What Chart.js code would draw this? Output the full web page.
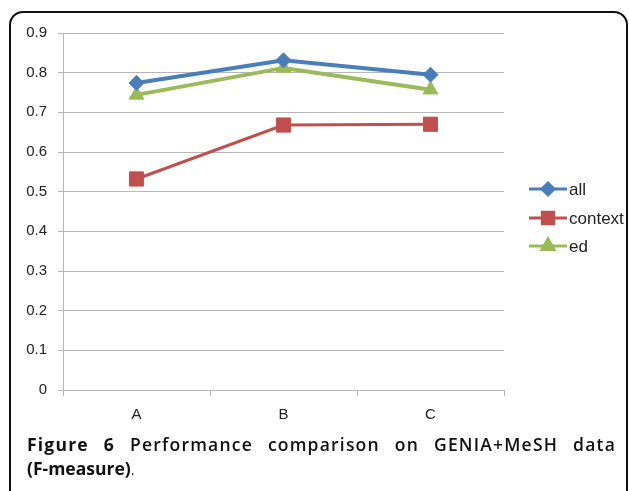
<!DOCTYPE html>
<html>
<head>
<meta charset="utf-8">
<script src="https://cdn.jsdelivr.net/npm/chart.js@4/dist/chart.umd.min.js"></script>
<style>
  html, body { margin: 0; padding: 0; background: #fff; }
  #wrap { position: relative; width: 629px; height: 491px; overflow: hidden; background: #fff; }
  #frame { position: absolute; left: 9px; top: 11px; width: 619px; height: 494px; box-sizing: border-box;
           border: 2px solid #111; border-radius: 14px; }
  #chartBox { position: absolute; left: 0; top: 0; width: 629px; height: 491px; }
  #caption { position: absolute; left: 27px; top: 432px; width: 589px; font-family: "Open Sans", sans-serif;
             font-size: 17.5px; color: #111; line-height: 24px; }
  #caption .l1 { text-align: justify; text-align-last: justify; font-weight: 600; letter-spacing: 1.2px; white-space: nowrap; }
  #caption .l2 { font-weight: 700; }
  #caption b { font-weight: 700; }
  #caption .dot { font-weight: 400; font-size: 14px; }
</style>
</head>
<body>
<div id="wrap">
  <div id="frame"></div>
  <div id="chartBox"><canvas id="c"></canvas></div>
  <div id="caption">
    <div class="l1"><b>Figure 6</b> Performance comparison on GENIA+MeSH data</div>
    <div class="l2">(F-measure)<span class="dot">.</span></div>
  </div>
</div>
<script>
const categories = ["A", "B", "C"];
const allValues = [0.774, 0.831, 0.795];
const contextValues = [0.532, 0.668, 0.670];
const edValues = [0.744, 0.812, 0.757];
const yTicks = [0, 0.1, 0.2, 0.3, 0.4, 0.5, 0.6, 0.7, 0.8, 0.9];

const seriesNames = ["all", "context", "ed"];
const gridColor = "#b8b8b8";

const legendPlugin = {
  id: "sideLegend",
  afterDraw(chart) {
    const ctx = chart.ctx;
    const x0 = 529, x1 = 567;
    const rows = [189, 218, 246];
    const legendRadius = [6, 8, 7];
    chart.data.datasets.forEach((ds, i) => {
      const y = rows[i];
      ctx.save();
      ctx.strokeStyle = ds.borderColor;
      ctx.lineWidth = 3;
      ctx.beginPath();
      ctx.moveTo(x0, y);
      ctx.lineTo(x1, y);
      ctx.stroke();
      ctx.fillStyle = ds.pointBackgroundColor;
      ctx.strokeStyle = ds.pointBorderColor;
      Chart.helpers.drawPoint(ctx, { pointStyle: ds.pointStyle, radius: legendRadius[i], rotation: 0, borderWidth: 1 }, (x0 + x1) / 2, y);
      ctx.fillStyle = "#222";
      ctx.font = "17px 'Liberation Sans', sans-serif";
      ctx.textBaseline = "middle";
      ctx.textAlign = "left";
      ctx.fillText(ds.label, x1 + 2, y + 1);
      ctx.restore();
    });
  }
};

new Chart(document.getElementById("c"), {
  type: "line",
  data: {
    labels: categories,
    datasets: [
      { label: seriesNames[0], data: allValues, borderColor: "#4a7ebb", backgroundColor: "#4a7ebb",
        pointBackgroundColor: "#4a7ebb", pointBorderColor: "#4a7ebb", borderWidth: 4, pointStyle: "rectRot", pointRadius: 7.5, pointBorderWidth: 1 },
      { label: seriesNames[1], data: contextValues, borderColor: "#c0504d", backgroundColor: "#c0504d",
        pointBackgroundColor: "#c0504d", pointBorderColor: "#c0504d", borderWidth: 3, pointStyle: "rect", pointRadius: 10, pointBorderWidth: 1 },
      { label: seriesNames[2], data: edValues, borderColor: "#9bbb59", backgroundColor: "#9bbb59",
        pointBackgroundColor: "#9bbb59", pointBorderColor: "#9bbb59", borderWidth: 4, pointStyle: "triangle", pointRadius: 8.5, pointBorderWidth: 1 }
    ]
  },
  options: {
    responsive: true,
    maintainAspectRatio: false,
    animation: false,
    events: [],
    layout: { padding: { left: 0, top: 33, right: 125, bottom: 61 } },
    plugins: { legend: { display: false }, tooltip: { enabled: false } },
    scales: {
      x: {
        type: "category",
        offset: true,
        afterFit(s) { s.height = 40; },
        grid: { offset: true, drawOnChartArea: false, drawTicks: true, tickLength: 6, color: gridColor, lineWidth: 1 },
        border: { color: gridColor, width: 1 },
        ticks: { color: "#222", padding: 10, font: { family: "Liberation Sans", size: 15 } }
      },
      y: {
        min: 0, max: 0.9,
        afterFit(s) { s.width = 63; },
        afterBuildTicks(s) { s.ticks = yTicks.map(v => ({ value: v })); },
        grid: { color: gridColor, lineWidth: 1, tickLength: 5 },
        border: { color: gridColor, width: 1 },
        ticks: { color: "#222", padding: 11, font: { family: "Liberation Sans", size: 15 },
                 callback: v => (v === 0 ? "0" : Number(v).toFixed(1)) }
      }
    }
  },
  plugins: [legendPlugin]
});
</script>
</body>
</html>
